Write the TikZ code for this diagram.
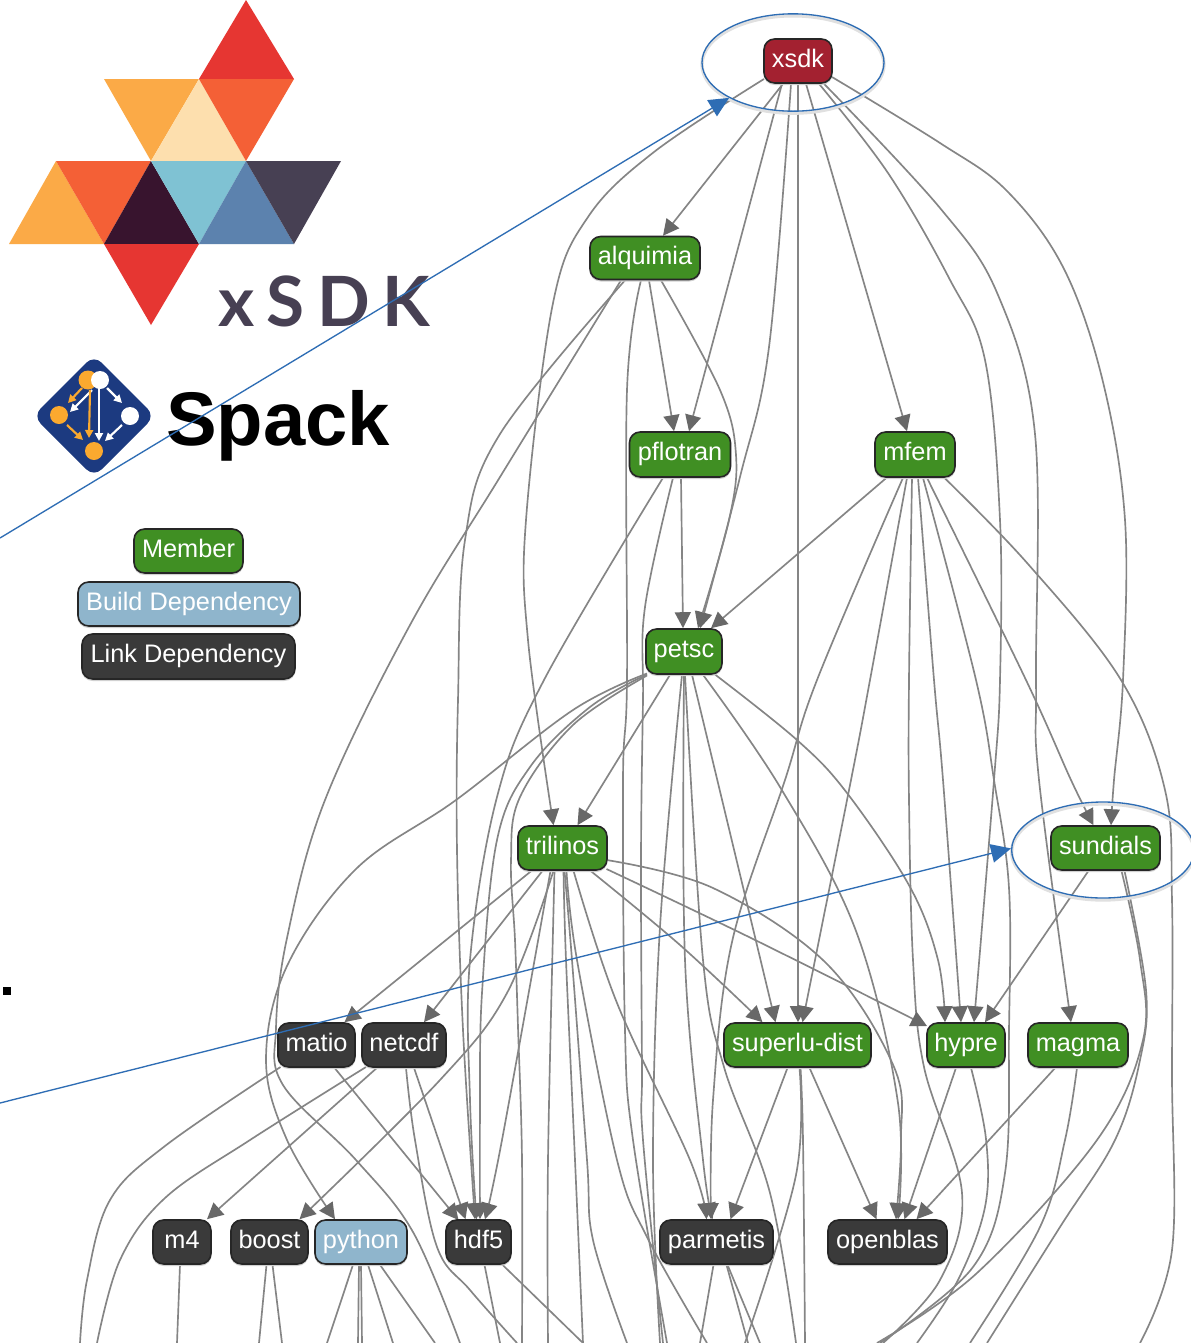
\documentclass[tikz,border=0pt]{standalone}
\usepackage{fontspec}
\setmainfont{Liberation Sans}
\newfontfamily\xsdkfont[LetterSpace=18]{Lato}
\usetikzlibrary{arrows.meta,shapes.geometric}
\pgfdeclarelayer{edges}
\pgfsetlayers{edges,main}
\definecolor{memgreen}{HTML}{408F23}
\definecolor{bluedep}{HTML}{8FB5CC}
\definecolor{linkdark}{HTML}{3A3A3A}
\definecolor{rootred}{HTML}{A32130}
\definecolor{edgegray}{HTML}{858585}
\definecolor{tipgray}{HTML}{686868}
\definecolor{annot}{HTML}{2E6DB4}
\definecolor{lorange}{HTML}{FBAA47}
\definecolor{lcream}{HTML}{FDDFAE}
\definecolor{lred}{HTML}{E63632}
\definecolor{lored}{HTML}{F46036}
\definecolor{lpurple}{HTML}{38142E}
\definecolor{lsky}{HTML}{7FC2D3}
\definecolor{lsteel}{HTML}{5C82AE}
\definecolor{lslate}{HTML}{474053}
\definecolor{spblue}{HTML}{1C3A80}
\definecolor{sporange}{HTML}{FBA92F}
\tikzset{
  pkg/.style={rectangle,rounded corners=8pt,draw=black!85,line width=1.2pt,text=white,
    font=\fontsize{19}{22}\selectfont,inner sep=0pt,text height=14pt,text depth=5pt,
    preaction={draw=black!18,line width=1pt,transform canvas={yshift=-1pt}}},
  member/.style={pkg,fill=memgreen},
  builddep/.style={pkg,fill=bluedep},
  linkdep/.style={pkg,fill=linkdark},
  rootpkg/.style={pkg,fill=rootred},
  wpx/.style={minimum width=#1*0.75pt},
  hpx/.style={minimum height=#1*0.75pt},
  edge/.style={draw=edgegray,line width=1.25pt},
  dep/.style={edge,-{Triangle[length=12pt,width=12pt,color=tipgray]}},
  callout/.style={draw=annot,line width=1pt,-{Triangle[length=15pt,width=14pt,color=annot]}},
  ring/.style={ellipse,draw=annot,line width=1pt,inner sep=0pt,
    preaction={draw=black!12,line width=2.5pt,transform canvas={yshift=-1.5pt}}},
  sparrow/.style={line width=1.6pt,-{Triangle[length=6pt,width=6pt]}},
}
\newcommand\Bt[2]{([shift={(#2,0)}]#1.south)}
\newcommand\Tp[2]{([shift={(#2,0)}]#1.north)}
\newcommand\Sd[3]{([shift={(#2,#3)}]#1.center)}
\def\conn#1#2{\edef\tmpconn{\noexpand\draw[#1] plot[smooth,tension=.6] coordinates {#2};}\tmpconn}
\begin{document}
\begin{tikzpicture}[x=0.75pt,y=-0.75pt]
\useasboundingbox (0,0) rectangle (1191,1343);
\begin{pgfonlayer}{edges}
\fill[white] (0,0) rectangle (1191,1343);
\end{pgfonlayer}
% packages
\node[rootpkg,wpx=68,hpx=44] (xsdk) at (798,61) {xsdk};
\node[member,wpx=110,hpx=43] (alquimia) at (645,258) {alquimia};
\node[member,wpx=101,hpx=45] (pflotran) at (680,454.5) {pflotran};
\node[member,wpx=80,hpx=45] (mfem) at (915,454.5) {mfem};
\node[member,wpx=76,hpx=45] (petsc) at (684,651.5) {petsc};
\node[member,wpx=89,hpx=44] (trilinos) at (562.5,848) {trilinos};
\node[member,wpx=109,hpx=44] (sundials) at (1105.5,848) {sundials};
\node[linkdep,wpx=77,hpx=44] (matio) at (316.5,1045) {matio};
\node[linkdep,wpx=84,hpx=44] (netcdf) at (404,1045) {netcdf};
\node[member,wpx=147,hpx=44] (superlu) at (797.5,1045) {superlu-dist};
\node[member,wpx=78,hpx=44] (hypre) at (966,1045) {hypre};
\node[member,wpx=100,hpx=44] (magma) at (1078,1045) {magma};
\node[linkdep,wpx=58,hpx=44] (m4) at (182,1242) {m4};
\node[linkdep,wpx=77,hpx=44] (boost) at (269.5,1242) {boost};
\node[builddep,wpx=92,hpx=44] (python) at (361,1242) {python};
\node[linkdep,wpx=65,hpx=44] (hdf5) at (478.5,1242) {hdf5};
\node[linkdep,wpx=113,hpx=44] (parmetis) at (716.5,1242) {parmetis};
\node[linkdep,wpx=119,hpx=44] (openblas) at (887.5,1242) {openblas};
% legend
\node[member,wpx=109,hpx=44] (lgm) at (188.5,551) {Member};
\node[builddep,wpx=222,hpx=44] (lgb) at (189,604) {Build Dependency};
\node[linkdep,wpx=213,hpx=45] (lgl) at (188.5,656.5) {Link Dependency};
% free ends at the lower edge
\foreach \x in {80,97,177,259,282,327,358,362,393,435,460,500,517,522,548,583,627,660,663,667,700,707,745,748,760,796,805,877,880,883,917,970,987,1140}{\coordinate (o\x) at (\x,1343);}
\begin{pgfonlayer}{edges}
% xsdk
\conn{dep}{\Bt{xsdk}{-15} \Tp{alquimia}{18}}
\conn{dep}{\Bt{xsdk}{-16} \Tp{pflotran}{9}}
\conn{dep}{\Bt{xsdk}{-7} (769,347) (740,477) \Tp{petsc}{16}}
\conn{dep}{\Bt{xsdk}{0} \Tp{superlu}{0.5}}
\conn{dep}{\Bt{xsdk}{8} \Tp{mfem}{-8}}
\conn{dep}{\Sd{xsdk}{-34}{18} (654,152) (588,217) (553,303) (526,520) (528,640) \Tp{trilinos}{-9}}
\conn{dep}{\Bt{xsdk}{21} (888,173) (949,278) (985,360) (1000,520) (1000,680) (994,780) \Tp{hypre}{8}}
\conn{dep}{\Bt{xsdk}{26} (940,208) (998,295) (1035,434) (1036,680) (1039,780) \Tp{magma}{-7}}
\conn{dep}{\Sd{xsdk}{34}{16} (940,143) (1007,191) (1064,269) (1103,382) (1125,520) (1123,680) (1114,780) \Tp{sundials}{5.5}}
% alquimia
\conn{dep}{\Bt{alquimia}{4} \Tp{pflotran}{-6}}
\conn{dep}{\Bt{alquimia}{16} (720,390) (736,455) (729,520) \Tp{petsc}{14}}
\conn{edge}{\Bt{alquimia}{-4} (627,390) (627,680) (623,780) (625,1031) (633,1140) (o667)}
\conn{dep}{\Bt{alquimia}{-20} (500,434) (465,540) (458,700) (457,850) (463,1030) \Tp{hdf5}{-3.5}}
\conn{edge}{\Bt{alquimia}{-24} (500,477) (410,625) (325,800) (287,938) (276,1028) (283,1085) (356,1160) (413,1232) (o460)}
% pflotran
\conn{dep}{\Bt{pflotran}{1} \Tp{petsc}{-1}}
\conn{dep}{\Bt{pflotran}{-17} (544,680) (497,797) (470,960) (470,1100) \Tp{hdf5}{-2}}
\conn{edge}{\Bt{pflotran}{-7} (645,607) (643,700) (641,860) (642,1067) (643,1140) (o663)}
% mfem
\conn{dep}{\Sd{mfem}{-27}{22} \Tp{petsc}{27}}
\conn{dep}{\Bt{mfem}{-12} (817,680) (785,780) (732,942) (713,1100) \Tp{parmetis}{-5.5}}
\conn{dep}{\Bt{mfem}{-8} (870,680) (851,780) \Tp{superlu}{5}}
\conn{edge}{\Bt{mfem}{-3} (909,680) (909,800) (913,960) (924,1067) (962,1193) (940,1280) (o883)}
\conn{dep}{\Bt{mfem}{3} (934,680) (943,780) \Tp{hypre}{-5}}
\conn{edge}{\Bt{mfem}{8} (976,680) (994,780) (1009,888) (1009,1030) (1005,1173) (973,1267) (o880)}
\conn{dep}{\Bt{mfem}{12} (1026,680) (1071,780) \Tp{sundials}{-12}}
\conn{edge}{\Sd{mfem}{28}{22} (1028,564) (1121,680) (1165,790) (1172,900) (1172,1075) (1172,1250) (o1140)}
% petsc
\conn{dep}{\Sd{petsc}{-37}{22} (573,710) (456,800) (356,869) (287,966) (266,1060) (287,1140) \Tp{python}{-26}}
\conn{dep}{\Sd{petsc}{-37}{23} (590,707) (530,767) (497,840) (482,993) (480,1110) \Tp{hdf5}{1.5}}
\conn{edge}{\Sd{petsc}{-37}{24} (573,725) (520,797) (511,860) (515,940) (518,1027) (522,1160) (o522)}
\conn{dep}{\Bt{petsc}{-14} \Tp{trilinos}{15}}
\conn{edge}{\Bt{petsc}{-2} (660,927) (653,1160) (o660)}
\conn{dep}{\Bt{petsc}{0} (685,960) (703,1160) \Tp{parmetis}{-4}}
\conn{edge}{\Bt{petsc}{1} (703,960) (724,1067) (770,1193) (o796)}
\conn{dep}{\Bt{petsc}{8} \Tp{superlu}{-22}}
\conn{dep}{\Bt{petsc}{19} (780,787) (856,931) (898,1103) \Tp{openblas}{10.5}}
\conn{dep}{\Sd{petsc}{31}{23} (797,740) (847,793) (910,887) (938,960) \Tp{hypre}{-21}}
% trilinos
\conn{dep}{\Sd{trilinos}{-30}{22} \Tp{matio}{28}}
\conn{dep}{\Bt{trilinos}{-20} \Tp{netcdf}{20}}
\conn{dep}{\Bt{trilinos}{-9} (507,993) (440,1080) \Tp{boost}{30}}
\conn{dep}{\Bt{trilinos}{-12} (502,1140) \Tp{hdf5}{6.5}}
\conn{edge}{\Bt{trilinos}{-8} (548,1160) (o548)}
\conn{edge}{\Bt{trilinos}{1} (566,960) (575,1160) (o583)}
\conn{edge}{\Bt{trilinos}{2} (572,960) (587,1160) (593,1240) (o627)}
\conn{edge}{\Bt{trilinos}{4} (577,960) (617,1160) (647,1237) (o707)}
\conn{dep}{\Bt{trilinos}{11} (617,1003) (690,1160) \Tp{parmetis}{-10}}
\conn{dep}{\Bt{trilinos}{28} (680,945) \Tp{superlu}{-35}}
\conn{dep}{\Sd{trilinos}{44}{21} (751,938) \Sd{hypre}{-39}{-19}}
\conn{dep}{\Sd{trilinos}{44}{12} (713,888) (826,963) (894,1067) (901,1139) \Tp{openblas}{8.5}}
% superlu-dist
\conn{dep}{\Bt{superlu}{-10} \Tp{parmetis}{14}}
\conn{edge}{\Bt{superlu}{2} (796,1175) (o745)}
\conn{edge}{\Bt{superlu}{3} (803,1140) (o805)}
\conn{dep}{\Bt{superlu}{12} \Tp{openblas}{-11}}
% hypre, magma, sundials
\conn{dep}{\Bt{hypre}{-10} \Tp{openblas}{17}}
\conn{edge}{\Bt{hypre}{5} (986,1139) (985,1207) (958,1280) (o917)}
\conn{dep}{\Sd{magma}{-22}{22} \Tp{openblas}{29}}
\conn{edge}{\Bt{magma}{-1} (1065,1140) (1040,1227) (o970)}
\conn{dep}{\Bt{sundials}{-17} \Tp{hypre}{19}}
\conn{edge}{\Bt{sundials}{16} (1140,960) (1143,1040) (1097,1140) (977,1273) (o877)}
\conn{edge}{\Bt{sundials}{19} (1146,990) (1140,1060) (1115,1140) (1060,1227) (o987)}
% matio, netcdf
\conn{edge}{\Sd{matio}{-36}{22} (165,1146) (110,1200) (87,1280) (o80)}
\conn{dep}{\Bt{matio}{18} \Sd{hdf5}{-20}{-22}}
\conn{edge}{\Sd{netcdf}{-38}{22} (250,1140) (165,1198) (120,1260) (o97)}
\conn{dep}{\Bt{netcdf}{-27} \Tp{m4}{25}}
\conn{dep}{\Bt{netcdf}{10} \Tp{hdf5}{-13}}
\conn{edge}{\Bt{netcdf}{2} (415,1140) (437,1247) (470,1290) (o517)}
% lowest row
\conn{edge}{\Bt{m4}{-2} (o177)}
\conn{edge}{\Bt{boost}{-3} (o259)}
\conn{edge}{\Bt{boost}{3} (o282)}
\conn{edge}{\Bt{python}{-8} (o327)}
\conn{edge}{\Bt{python}{-2} (o358)}
\conn{edge}{\Bt{python}{0} (o362)}
\conn{edge}{\Bt{python}{7} (o393)}
\conn{edge}{\Bt{python}{19} (o435)}
\conn{edge}{\Bt{hdf5}{6} (o500)}
\conn{edge}{\Bt{hdf5}{24} (o583)}
\conn{edge}{\Bt{parmetis}{-3} (o700)}
\conn{edge}{\Bt{parmetis}{10} (o748)}
\conn{edge}{\Bt{parmetis}{11} (o760)}
\end{pgfonlayer}
% xSDK logo
\fill[lred] (246,0) -- (199,79) -- (294,79) -- cycle;
\fill[lorange] (104,79) -- (199,79) -- (151,161) -- cycle;
\fill[lcream] (199,79) -- (151,161) -- (246,161) -- cycle;
\fill[lored] (199,79) -- (294,79) -- (246,161) -- cycle;
\fill[lorange] (56,161) -- (9,244) -- (104,244) -- cycle;
\fill[lored] (56,161) -- (151,161) -- (104,244) -- cycle;
\fill[lpurple] (151,161) -- (104,244) -- (199,244) -- cycle;
\fill[lsky] (151,161) -- (246,161) -- (199,244) -- cycle;
\fill[lsteel] (246,161) -- (199,244) -- (294,244) -- cycle;
\fill[lslate] (246,161) -- (341,161) -- (294,244) -- cycle;
\fill[lred] (104,244) -- (199,244) -- (151,325) -- cycle;
\node[anchor=base west,inner sep=0pt,text=lslate,font={\xsdkfont\bfseries\fontsize{52}{60}\selectfont}] (xsdklogo) at (218,326) {xSDK};
% Spack logo
\fill[spblue,rounded corners=8pt] (94,355) -- (155,416) -- (94,477) -- (33,416) -- cycle;
\fill[sporange] (88,380) circle (9.5);
\fill[white] (100,380) circle (9);
\fill[sporange] (59,415) circle (9);
\fill[white] (130,416) circle (9);
\fill[sporange] (94,451) circle (9);
\draw[sparrow,sporange] (82,388) -- (68,403);
\draw[sparrow,white] (92,390) -- (70,412);
\draw[sparrow,white] (107,388) -- (122,403);
\draw[sparrow,sporange] (90,390) -- (89,438);
\draw[sparrow,white] (99,388) -- (99,441);
\draw[sparrow,sporange] (67,425) -- (83,440);
\draw[sparrow,white] (122,425) -- (105,441);
\node[anchor=base west,inner sep=0pt,font={\bfseries\fontsize{57}{60}\selectfont}] (spacklogo) at (166,445) {Spack};
% stray mark
\fill[black] (3,987) rectangle (11,995);
% callouts
\node[ring,minimum width=136.5pt,minimum height=73pt] (ringa) at (793,62.5) {};
\node[ring,minimum width=137pt,minimum height=72pt] (ringb) at (1103,850) {};
\coordinate (starta) at (0,538);
\coordinate (startb) at (0,1103);
\draw[callout] (starta) -- (ringa.209);
\draw[callout] (startb) -- (ringb.179);
\end{tikzpicture}
\end{document}
